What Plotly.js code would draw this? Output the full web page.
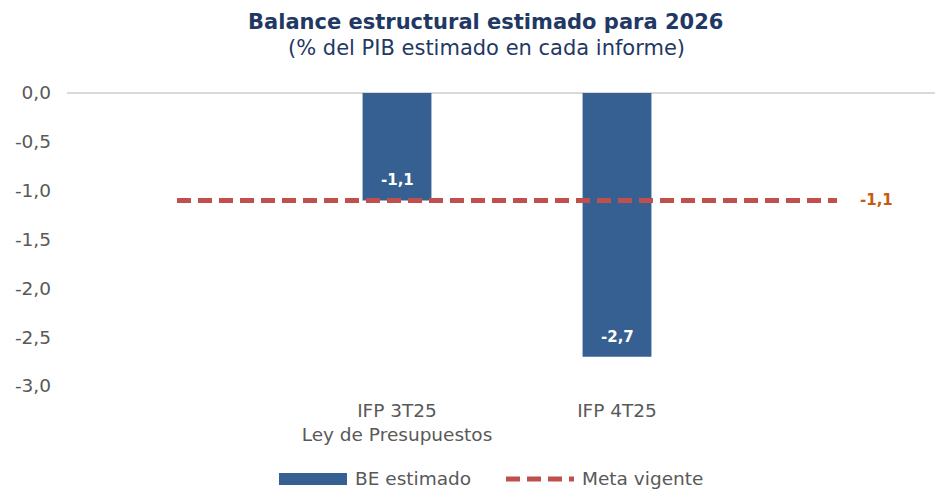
<!DOCTYPE html>
<html>
<head>
<meta charset="utf-8">
<script src="https://cdn.plot.ly/plotly-3.0.1.min.js"></script>
<style>html,body{margin:0;padding:0;background:#fff;}#chart{width:935px;height:489px;}</style>
</head>
<body>
<div id="chart"></div>
<script>
// ---- data ----
const categories = ["", "IFP 3T25<br>Ley de Presupuestos", "IFP 4T25", ""];
const beEstimado = [null, -1.1, -2.7, null];
const metaVigente = [-1.1, -1.1, -1.1, -1.1];
const yTickVals = [0, -0.5, -1, -1.5, -2, -2.5, -3];
const yTickText = ["0,0", "-0,5", "-1,0", "-1,5", "-2,0", "-2,5", "-3,0"];
const seriesNames = ["BE estimado", "Meta vigente"];
const titleText = "Balance estructural estimado para 2026";
const subtitleText = "(% del PIB estimado en cada informe)";

// ---- styling ----
const BLUE = "#376092";
const RED = "#C0504D";
const ORANGE = "#C55A11";
const GRAY = "#595959";
const NAVY = "#1F3864";
const FONT = "DejaVu Sans, Verdana, sans-serif";
const TFONT = 18.5;

const fmt = v => v.toFixed(1).replace(".", ",");
const xIdx = categories.map((_, i) => i);

const barX = [], barY = [];
beEstimado.forEach((v, i) => { if (v !== null) { barX.push(i); barY.push(v); } });

const traces = [
  {
    type: "bar", name: seriesNames[0], x: barX, y: barY,
    width: 0.313, marker: {color: BLUE}, showlegend: false, hoverinfo: "skip"
  },
  {
    type: "scatter", mode: "lines", name: seriesNames[1], x: xIdx, y: metaVigente,
    line: {color: RED, width: 5, dash: "14px,7px"}, showlegend: false, hoverinfo: "skip"
  }
];

// pixel helpers for paper coordinates (plot area: x 67..935, y 93..386)
const L = 67, R = 0, T = 93, B = 103, W = 935, H = 489;
const pw = W - L - R, ph = H - T - B;
const px = x => (x - L) / pw;
const py = y => (H - B - y) / ph;

const annotations = [];
barX.forEach((x, k) => {
  annotations.push({
    x: x, y: barY[k], xref: "x", yref: "y", text: "<b>" + fmt(barY[k]) + "</b>",
    showarrow: false, yshift: 20, font: {family: FONT, size: 15, color: "#FFFFFF"}
  });
});
const lastIdx = metaVigente.length - 1;
annotations.push({
  x: xIdx[lastIdx], y: metaVigente[lastIdx], xref: "x", yref: "y",
  text: "<b>" + fmt(metaVigente[lastIdx]) + "</b>", showarrow: false,
  xanchor: "left", xshift: 21, font: {family: FONT, size: 15, color: ORANGE}
});
// title lines
annotations.push({x: px(485), y: py(22), xref: "paper", yref: "paper", xanchor: "center", yanchor: "middle",
  text: "<b>" + titleText + "</b>", showarrow: false,
  font: {family: FONT, size: 21, color: NAVY}});
annotations.push({x: px(486), y: py(48), xref: "paper", yref: "paper", xanchor: "center", yanchor: "middle",
  text: subtitleText, showarrow: false,
  font: {family: FONT, size: 21, color: NAVY}});
// custom legend texts
annotations.push({x: px(353), y: py(478), xref: "paper", yref: "paper", xanchor: "left", yanchor: "middle",
  text: seriesNames[0], showarrow: false, font: {family: FONT, size: TFONT, color: GRAY}});
annotations.push({x: px(580), y: py(478), xref: "paper", yref: "paper", xanchor: "left", yanchor: "middle",
  text: seriesNames[1], showarrow: false, font: {family: FONT, size: TFONT, color: GRAY}});

const shapes = [
  {type: "rect", xref: "paper", yref: "paper", x0: px(279), x1: px(347), y0: py(485), y1: py(473),
   fillcolor: BLUE, line: {width: 0}},
  {type: "line", xref: "paper", yref: "paper", x0: px(506), x1: px(574), y0: py(479), y1: py(479),
   line: {color: RED, width: 5, dash: "14px,7px"}}
];

const layout = {
  width: W, height: H,
  margin: {l: L, r: R, t: T, b: B, pad: 0},
  paper_bgcolor: "#fff", plot_bgcolor: "#fff",
  separators: ",.",
  font: {family: FONT, size: TFONT, color: GRAY},
  showlegend: false,
  xaxis: {
    range: [-0.5, -0.5 + pw / 220], tickmode: "array", tickvals: xIdx, ticktext: categories,
    showgrid: false, zeroline: false, showline: false, ticks: "", ticklabelstandoff: 11,
    tickfont: {family: FONT, size: TFONT, color: GRAY}, fixedrange: true
  },
  yaxis: {
    range: [-3, 0], tickmode: "array", tickvals: yTickVals, ticktext: yTickText,
    showgrid: false, zeroline: true, zerolinecolor: "#D9D9D9", zerolinewidth: 2,
    showline: false, ticks: "", ticklabelstandoff: 15,
    tickfont: {family: FONT, size: TFONT, color: GRAY}, fixedrange: true
  },
  annotations: annotations,
  shapes: shapes
};

Plotly.newPlot("chart", traces, layout, {displayModeBar: false, staticPlot: true});
</script>
</body>
</html>
